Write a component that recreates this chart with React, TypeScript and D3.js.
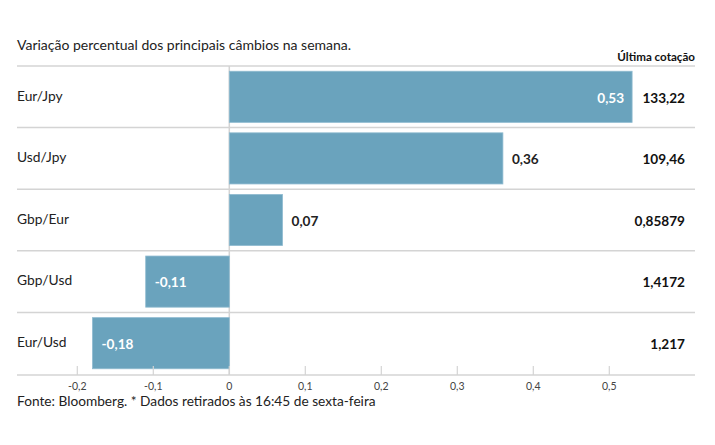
import React from "react";
import * as d3 from "d3";

const categories = ["Eur/Jpy", "Usd/Jpy", "Gbp/Eur", "Gbp/Usd", "Eur/Usd"];
const values = [0.53, 0.36, 0.07, -0.11, -0.18];
const quotes = ["133,22", "109,46", "0,85879", "1,4172", "1,217"];
const tickValues = [-0.2, -0.1, 0, 0.1, 0.2, 0.3, 0.4, 0.5];

const W = 715;
const H = 445;
const FONT = "Lato, 'PT Sans', sans-serif";
const BAR = "#6aa3bd";
const GRID = "#d4d4d4";

const fmt = (v: number) => (v === 0 ? "0" : d3.format(".2~f")(v).replace(".", ",").replace("−", "-"));
const fmtTick = (v: number) => (v === 0 ? "0" : d3.format(".1f")(v).replace(".", ",").replace("−", "-"));

export default function App() {
  const x = d3.scaleLinear().domain([-0.2, 0.5]).range([77.3, 609.3]);
  const y = d3.scaleBand<string>().domain(categories).range([66, 374]).paddingInner(0.17).paddingOuter(0.085);
  const step = y.step();
  const left = 17;
  const right = 695;
  const axisY = 375;

  return (
    <svg width={W} height={H} style={{ position: "absolute", left: 0, top: 0, fontFamily: FONT }}>
      <text x={left} y={50} fontSize={14} fill="#222">
        Variação percentual dos principais câmbios na semana.
      </text>
      <text x={right} y={61} fontSize={11.6} fontWeight="bold" textAnchor="end" fill="#111">
        Última cotação
      </text>
      {categories.map((c, i) => {
        const rowTop = 66 + i * step;
        return (
          <line key={"sep" + c} x1={left} x2={right} y1={rowTop} y2={rowTop} stroke={GRID} strokeWidth={1.5} />
        );
      })}
      <line x1={left} x2={right} y1={axisY} y2={axisY} stroke={GRID} strokeWidth={1.5} />
      <line x1={x(0)} x2={x(0)} y1={66} y2={axisY} stroke={GRID} strokeWidth={1.5} />
      {categories.map((c, i) => {
        const v = values[i];
        const x0 = Math.min(x(0), x(v));
        const w = Math.abs(x(v) - x(0));
        const by = y(c)!;
        const bh = y.bandwidth();
        const cy = 66 + i * step + step / 2;
        const inside = v < 0 || v > 0.5;
        let lx: number;
        let anchor: "start" | "end";
        if (v < 0) {
          lx = x(v) + 9;
          anchor = "start";
        } else if (inside) {
          lx = x(v) - 8;
          anchor = "end";
        } else {
          lx = x(v) + 9;
          anchor = "start";
        }
        return (
          <g key={c}>
            <text x={left} y={cy - 1} dy="0.35em" fontSize={13.8} fill="#222">
              {c}
            </text>
            <rect x={x0} y={by} width={w} height={bh} fill={BAR} stroke="#8fbbd0" strokeWidth={0.8} />
            <text
              x={lx}
              y={cy + 1}
              dy="0.35em"
              fontSize={13.6}
              fontWeight="bold"
              textAnchor={anchor}
              fill={inside ? "#ffffff" : "#222"}
            >
              {fmt(v)}
            </text>
            <text x={685} y={cy + 1} dy="0.35em" fontSize={13.6} fontWeight="bold" textAnchor="end" fill="#111">
              {quotes[i]}
            </text>
          </g>
        );
      })}
      {tickValues.map((t) => (
        <g key={"t" + t}>
          <line x1={x(t)} x2={x(t)} y1={366} y2={axisY} stroke={GRID} strokeWidth={1.2} />
          <text x={x(t)} y={390} fontSize={10.5} textAnchor="middle" fill="#444">
            {fmtTick(t)}
          </text>
        </g>
      ))}
      <text x={left} y={406} fontSize={13.7} fill="#222">
        Fonte: Bloomberg.{"\u00a0"}* Dados retirados às 16:45 de sexta-feira
      </text>
    </svg>
  );
}
